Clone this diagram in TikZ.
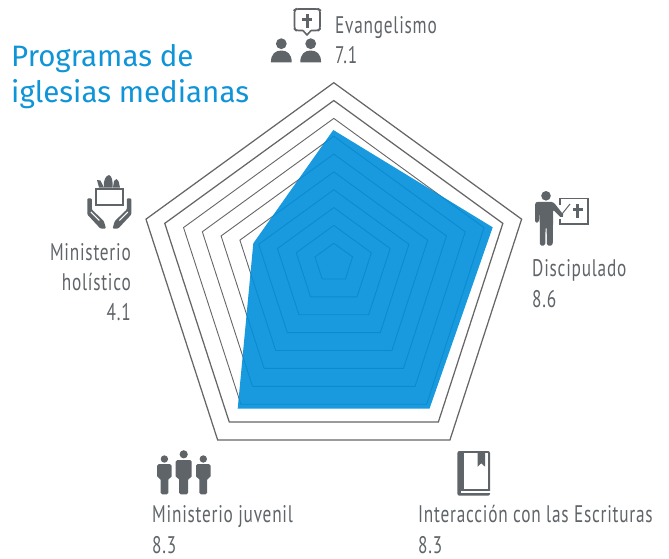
\documentclass[tikz,border=0pt]{standalone}
\usepackage{fontspec}
\setmainfont{PT Sans}
\newfontfamily\labfont[FakeStretch=0.72,LetterSpace=3.2]{PT Sans}
\newfontfamily\titfont{Fira Sans}
\definecolor{ink}{HTML}{5F6468}
\definecolor{web}{HTML}{666666}
\definecolor{wedge}{HTML}{008FDB}
\definecolor{tit}{HTML}{0F94D8}
\tikzset{
  lab/.style={font=\labfont\fontsize{24}{24}\selectfont,text=ink,inner sep=0pt,anchor=base west},
  labr/.style={lab,anchor=base east},
  title/.style={font=\titfont\fontsize{29.5}{29.5}\selectfont,text=tit,inner sep=0pt,anchor=base west},
  ring/.style={draw=web,line width=0.9pt,line join=miter},
  iconline/.style={draw=ink,fill=none,line width=1.6pt}
}
\newcommand{\fig}[8]{% cx headY headR shoulderY halfW armBot legHalf feet
  \fill[ink] (#1,#2) circle (#3);
  \fill[ink,rounded corners=1.6pt] (#1-#5,#6) -- (#1-#5,#4) -- (#1+#5,#4) -- (#1+#5,#6) -- (#1+#7,#6) -- (#1+#7,#8) -- (#1-#7,#8) -- (#1-#7,#6) -- cycle;
}
\begin{document}
\begin{tikzpicture}[x=1pt,y=-1pt]
\useasboundingbox (0,0) rectangle (669,558);
% web
\foreach \k in {1,...,10}{
  \pgfmathsetmacro{\r}{19.75*\k}
  \pgfmathsetmacro{\c}{261.1+1.91*\k}
  \pgfmathsetmacro{\lw}{\k>8?1.25:0.9}
  \draw[ring,line width=\lw pt] (333.8,\c-\r)
    -- (333.8+0.951*\r,\c-0.309*\r)
    -- (333.8+0.588*\r,\c+0.809*\r)
    -- (333.8-0.588*\r,\c+0.809*\r)
    -- (333.8-0.951*\r,\c-0.309*\r) -- cycle;
}
% score polygon
\fill[wedge,fill opacity=0.9] (333.3,130) -- (492.7,227.3) -- (429.5,408.7) -- (237.7,408.7) -- (253.3,243.3) -- cycle;
% title
\node[title] (t1) at (11,66) {Programas de};
\node[title] (t2) at (11,102.7) {iglesias medianas};
% labels
\node[lab] (ev) at (335,33) {Evangelismo};
\node[lab] (evv) at (335,63) {7.1};
\node[lab] (di) at (532,276) {Discipulado};
\node[lab] (div) at (532,307) {8.6};
\node[labr] (ho1) at (131,260) {Ministerio};
\node[labr] (ho2) at (131,290) {holístico};
\node[labr] (hov) at (131,320) {4.1};
\node[lab] (ju) at (152,522) {Ministerio juvenil};
\node[lab] (juv) at (152,553.5) {8.3};
\node[lab] (in) at (418,522) {Interacción con las Escrituras};
\node[lab] (inv) at (418,553.5) {8.3};
% evangelismo icon
\draw[iconline,line join=round,rounded corners=2.5pt] (303,30.5) -- (296,30.5) -- (294.5,29) -- (294.5,10) -- (296,9) -- (318.5,9) -- (320,10) -- (320,29) -- (318.5,30.5) -- (311,30.5);
\draw[iconline,line join=round] (303,30.5) -- (307,35) -- (311,30.5);
\fill[ink] (305.8,13.5) rectangle (308.6,27.5);
\fill[ink] (302.3,17.8) rectangle (312,20.6);
\foreach \x in {281.3,310.7}{
  \fill[ink] (\x,43.7) circle (5.4);
  \fill[ink] (\x-10.4,62.3) .. controls (\x-10.4,54) and (\x-6,50.5) .. (\x,50.5) .. controls (\x+6,50.5) and (\x+10.4,54) .. (\x+10.4,62.3) -- cycle;
}
% discipulado icon
\fill[ink] (546,195.8) circle (4.8);
\fill[ink,rounded corners=1.5pt] (535,222.5) -- (535,203) -- (537,201.8) -- (552.5,201.8) -- (555,204) -- (564,215.5) -- (561.5,218) -- (553,209.5) -- (553,225) -- (552.7,245.5) -- (547,245.5) -- (546.6,227) -- (545.6,227) -- (545.2,245.5) -- (540,245.5) -- (539.6,209) -- (538.8,222.5) -- cycle;
\draw[draw=ink,line width=1.2pt] (560,205) -- (560,198.7) -- (588,198.7) -- (588,224) -- (560,224) -- (560,219);
\draw[draw=ink,line width=1.8pt] (558.5,224.2) -- (589,224.2);
\draw[draw=ink,line width=1pt] (562,214) -- (570,204);
\fill[ink] (576.4,204) rectangle (579,217.5);
\fill[ink] (572.5,208) rectangle (583,210.5);
% holistic icon
\draw[iconline,line width=2pt] (95.5,188.5) rectangle (123,205);
\fill[ink] (99,187.5) -- (97,180) -- (100.5,180.5) -- (104,187.5) -- cycle;
\fill[ink] (104,187.5) .. controls (103,180) and (106,175.5) .. (109,175) .. controls (112,176) and (113,181) .. (112.5,187.5) -- cycle;
\fill[ink] (113,187.5) -- (114,181) -- (116.5,179) -- (118.5,181) -- (120,187.5) -- cycle;
\foreach \s in {1,-1}{
  \begin{scope}[shift={(109.3,0)},xscale=\s]
  \fill[ink,rounded corners=1pt] (-22,198.3) -- (-17.5,198.3) -- (-17.5,209.5) -- (-5.5,221) -- (-3.3,228.5) -- (-9,228.5) -- (-22,214.5) -- cycle;
  \draw[white,line width=1pt] (-18.5,212) -- (-10,220.5);
  \end{scope}
}
% youth icon
\fig{183.7}{454.3}{4.1}{460}{8}{478}{4.5}{494.3}
\fig{164.4}{459}{3.7}{464}{7.2}{478}{3.9}{494.3}
\fig{203.3}{459}{3.7}{464}{7.2}{478}{3.9}{494.3}
% book icon
\fill[ink,rounded corners=2pt] (457.4,451) rectangle (490,495.7);
\fill[white] (464,453) rectangle (488,488.5);
\fill[white] (461,490.7) rectangle (490.5,493.2);
\fill[ink] (477.7,451.5) -- (485,451.5) -- (485,466.7) -- (481.3,463.2) -- (477.7,466.7) -- cycle;
\end{tikzpicture}
\end{document}
